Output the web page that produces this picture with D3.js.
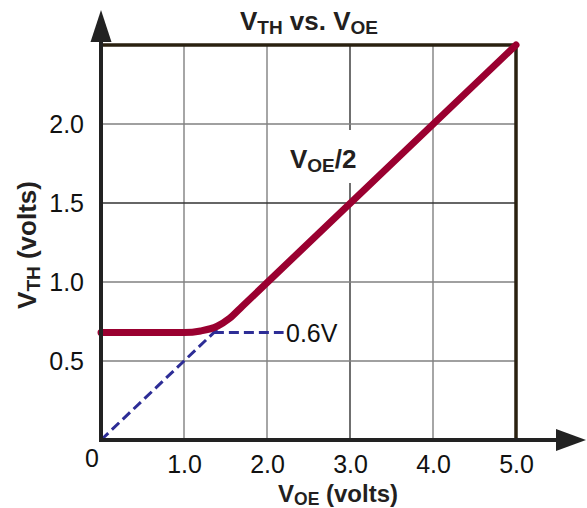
<!DOCTYPE html>
<html><head><meta charset="utf-8">
<script src="https://cdn.jsdelivr.net/npm/d3@7"></script>
<style>body{margin:0;background:#fff}svg{display:block}</style>
</head><body>
<svg id="c" width="587" height="508"></svg>
<script>
// Data
const xTicks = [1, 2, 3, 4, 5];
const yTicks = [0.5, 1.0, 1.5, 2.0];
const vthX = [0, 1.0, 1.2, 1.4, 1.55, 1.7, 5.0];
const vthY = [0.68, 0.68, 0.69, 0.72, 0.77, 0.845, 2.5];
const halfX = [0, 3.0];
const halfY = [0, 1.5];
const diodeX = [1.36, 2.2];
const diodeY = [0.68, 0.68];

const svg = d3.select("#c");
const x = d3.scaleLinear().domain([0, 5]).range([101, 516]);
const y = d3.scaleLinear().domain([0, 2.5]).range([440, 45]);
const FONT = "Arial, 'Liberation Sans', Helvetica, sans-serif";

// grid
const g = svg.append("g");
g.selectAll("line.v").data(xTicks.slice(0, 4)).join("line")
  .attr("x1", d => x(d)).attr("x2", d => x(d)).attr("y1", y(0)).attr("y2", y(2.5))
  .attr("stroke", d => d === 3 ? "#333" : "#808080").attr("stroke-width", 1.4);
g.selectAll("line.h").data(yTicks).join("line")
  .attr("y1", d => y(d)).attr("y2", d => y(d)).attr("x1", x(0)).attr("x2", x(5))
  .attr("stroke", d => d === 1.5 ? "#333" : "#808080").attr("stroke-width", 1.4);

// white background behind VOE/2 label
svg.append("rect").attr("x", 286).attr("y", 130).attr("width", 74).attr("height", 53).attr("fill", "#fff");

// borders top/right
svg.append("path")
  .attr("d", `M${x(0)},${y(2.5)}H${x(5)}V${y(0)}`)
  .attr("fill", "none").attr("stroke", "#2a2110").attr("stroke-width", 3.5);

// dashed lines
const line = d3.line().x(d => x(d[0])).y(d => y(d[1]));
svg.append("path").datum(d3.zip(halfX, halfY)).attr("d", line)
  .attr("fill", "none").attr("stroke", "#2d2d96").attr("stroke-width", 3).attr("stroke-dasharray", "10,5");
svg.append("path").datum(d3.zip(diodeX, diodeY)).attr("d", line)
  .attr("fill", "none").attr("stroke", "#2d2d96").attr("stroke-width", 3).attr("stroke-dasharray", "10,5");

// red curve
const curve = d3.line().x(d => x(d[0])).y(d => y(d[1])).curve(d3.curveMonotoneX);
svg.append("path").datum(d3.zip(vthX, vthY)).attr("d", curve)
  .attr("fill", "none").attr("stroke", "#9a0030").attr("stroke-width", 7)
  .attr("stroke-linecap", "round").attr("stroke-linejoin", "round");

// axes lines + arrows
svg.append("line").attr("x1", x(0)).attr("x2", x(0)).attr("y1", y(0) + 2).attr("y2", 38)
  .attr("stroke", "#222").attr("stroke-width", 4);
svg.append("path").attr("d", "M101,10L90.5,42L111.5,42Z").attr("fill", "#222");
svg.append("line").attr("x1", x(0) - 2).attr("x2", 562).attr("y1", y(0)).attr("y2", y(0))
  .attr("stroke", "#222").attr("stroke-width", 4);
svg.append("path").attr("d", "M586,440L556,429L556,451Z").attr("fill", "#222");

// tick labels via axes
const fmt = d3.format(".1f");
const ax = svg.append("g").attr("transform", `translate(0,${y(0)})`)
  .call(d3.axisBottom(x).tickValues(xTicks).tickFormat(fmt).tickSize(0).tickPadding(15.5));
const ay = svg.append("g").attr("transform", `translate(${x(0)},0)`)
  .call(d3.axisLeft(y).tickValues(yTicks).tickFormat(fmt).tickSize(0).tickPadding(17));
[ax, ay].forEach(a => {
  a.select(".domain").remove();
  a.selectAll("text").attr("font-family", FONT).attr("font-size", 25).attr("fill", "#111");
});
svg.append("text").attr("x", 92).attr("y", 467).attr("text-anchor", "middle")
  .attr("font-family", FONT).attr("font-size", 25).attr("fill", "#111").text("0");

// subscripted text helper
function sub(sel, parts, size, subSize, shift) {
  parts.forEach(([t, isSub]) => {
    sel.append("tspan").attr("font-size", isSub ? subSize : size)
      .attr("baseline-shift", isSub ? String(-(shift || 4)) : null).text(t);
  });
  return sel;
}
function txt(xp, yp, anchor, rotate) {
  const t = svg.append("text").attr("x", xp).attr("y", yp).attr("text-anchor", anchor)
    .attr("font-family", FONT).attr("font-weight", "bold").attr("fill", "#231f20");
  if (rotate) t.attr("transform", `rotate(-90,${xp},${yp})`);
  return t;
}
sub(txt(309, 30, "middle"), [["V", 0], ["TH", 1], [" vs. V", 0], ["OE", 1]], 26, 19);
sub(txt(36, 245, "middle", true), [["V", 0], ["TH", 1], [" (volts)", 0]], 26, 19);
sub(txt(338, 501.5, "middle"), [["V", 0], ["OE", 1], [" (volts)", 0]], 24, 17.5, 2.5);
sub(txt(290, 168, "start"), [["V", 0], ["OE", 1], ["/2", 0]], 26, 19);

svg.append("text").attr("x", 286).attr("y", 342).attr("font-family", FONT)
  .attr("font-size", 25).attr("fill", "#111").text("0.6V");
</script>
</body></html>
